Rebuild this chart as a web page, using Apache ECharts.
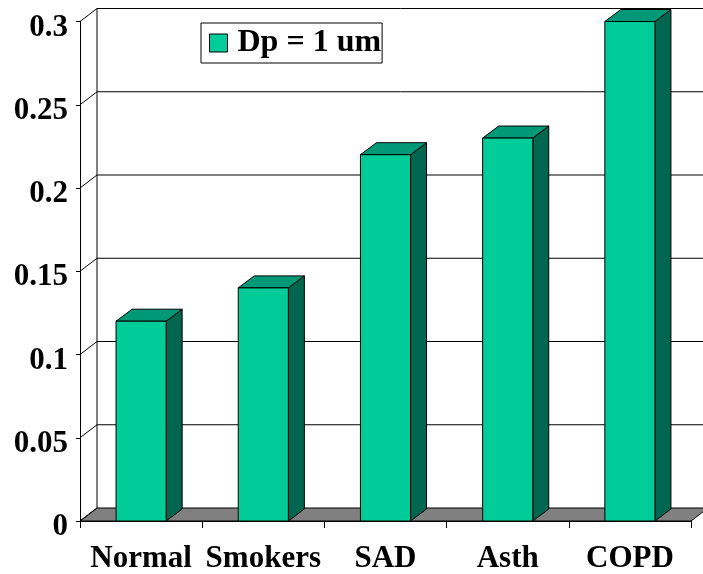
<!DOCTYPE html>
<html><head><meta charset="utf-8">
<script src="https://cdn.jsdelivr.net/npm/echarts@6/dist/echarts.min.js"></script>
<style>html,body{margin:0;padding:0;background:#fff}#c{width:703px;height:574px}</style>
</head><body><div id="c"></div>
<script>
const categories = ['Normal', 'Smokers', 'SAD', 'Asth', 'COPD'];
const seriesName = 'Dp = 1 um';
const values = [0.12, 0.14, 0.22, 0.23, 0.30];
const yTicks = [0, 0.05, 0.1, 0.15, 0.2, 0.25, 0.3];

const FONT = '"Liberation Serif","Times New Roman",serif';
const WALL_DX = 17, WALL_DY = -13, BAR_DX = 16, BAR_DY = -12, BAR_FRAC = 0.41;
const FRONT = '#00CC99', TOP = '#009977', SIDE = '#006650', FLOOR = '#808080';

function wallRender(params, api) {
  const cs = params.coordSys;
  const v = api.value(1);
  const y = api.coord([0, v])[1];
  const left = cs.x, right = cs.x + cs.width;
  const children = [];
  const ls = { stroke: '#000', lineWidth: 1 };
  if (params.dataIndex === 0) {
    const yTop = api.coord([0, yTicks[yTicks.length - 1]])[1];
    children.push({ type: 'polygon', shape: { points: [[left, y], [right, y], [right + WALL_DX, y + WALL_DY], [left + WALL_DX, y + WALL_DY]] },
      style: { fill: FLOOR, stroke: '#000', lineWidth: 1 } });
    children.push({ type: 'line', shape: { x1: left + WALL_DX, y1: y + WALL_DY, x2: left + WALL_DX, y2: yTop + WALL_DY }, style: ls });
  } else {
    children.push({ type: 'line', shape: { x1: left + WALL_DX, y1: y + WALL_DY, x2: right + WALL_DX, y2: y + WALL_DY }, style: ls });
  }
  children.push({ type: 'line', shape: { x1: left, y1: y, x2: left + WALL_DX, y2: y + WALL_DY }, style: ls });
  return { type: 'group', children };
}

function barRender(params, api) {
  const top = api.coord([api.value(0), api.value(1)]);
  const base = api.coord([api.value(0), 0]);
  const band = api.size([1, 0])[0];
  const w = band * BAR_FRAC;
  const l = top[0] - w / 2, r = top[0] + w / 2;
  const yt = top[1], yb = base[1];
  const st = { stroke: '#000', lineWidth: 1 };
  return { type: 'group', children: [
    { type: 'polygon', shape: { points: [[r, yt], [r + BAR_DX, yt + BAR_DY], [r + BAR_DX, yb + BAR_DY], [r, yb]] }, style: Object.assign({ fill: SIDE }, st) },
    { type: 'polygon', shape: { points: [[l, yt], [r, yt], [r + BAR_DX, yt + BAR_DY], [l + BAR_DX, yt + BAR_DY]] }, style: Object.assign({ fill: TOP }, st) },
    { type: 'rect', shape: { x: l, y: yt, width: w, height: yb - yt }, style: Object.assign({ fill: FRONT }, st) }
  ] };
}

const chart = echarts.init(document.getElementById('c'), null, { renderer: 'canvas' });
chart.setOption({
  animation: false,
  backgroundColor: '#fff',
  grid: { left: 80, right: 12, top: 21, bottom: 53, containLabel: false },
  legend: {
    data: [{ name: seriesName, icon: 'rect', itemStyle: { color: FRONT, borderColor: '#000', borderWidth: 1 } }],
    left: 201, top: 23, orient: 'horizontal',
    itemWidth: 18, itemHeight: 18,
    padding: [4, 1, 4, 8],
    borderColor: '#000', borderWidth: 1, borderRadius: 0,
    selectedMode: false,
    textStyle: { fontFamily: FONT, fontWeight: 'bold', fontSize: 32, color: '#000', lineHeight: 32, padding: [0, 0, 0, 5] }
  },
  xAxis: {
    type: 'category', data: categories, boundaryGap: true,
    axisLine: { show: true, lineStyle: { color: '#000', width: 1 } },
    axisTick: { show: true, length: 7, interval: 0, lineStyle: { color: '#000' } },
    axisLabel: { interval: 0, margin: 22, color: '#000', fontFamily: FONT, fontWeight: 'bold', fontSize: 31 },
    splitLine: { show: false }
  },
  yAxis: {
    type: 'value', min: 0, max: 0.3, interval: 0.05,
    axisLine: { show: true, lineStyle: { color: '#000', width: 1 } },
    axisTick: { show: true, length: 4, lineStyle: { color: '#000' } },
    axisLabel: { margin: 12, color: '#000',
      formatter: function (v) { const i = yTicks.indexOf(v); return i >= 0 ? '{v|' + String(yTicks[i]) + '}' : ''; },
      rich: { v: { fontFamily: FONT, fontWeight: 'bold', fontSize: 31, color: '#000', lineHeight: 31, padding: [12, 0, 0, 0] } } },
    splitLine: { show: false }
  },
  series: [
    { type: 'custom', name: 'wall', silent: true, z: 1, data: yTicks.map(v => [0, v]), encode: { x: 0, y: 1 }, renderItem: wallRender },
    { type: 'custom', name: seriesName, z: 3, itemStyle: { color: FRONT }, data: values.map((v, i) => [i, v]), encode: { x: 0, y: 1 }, renderItem: barRender }
  ]
});
</script></body></html>
